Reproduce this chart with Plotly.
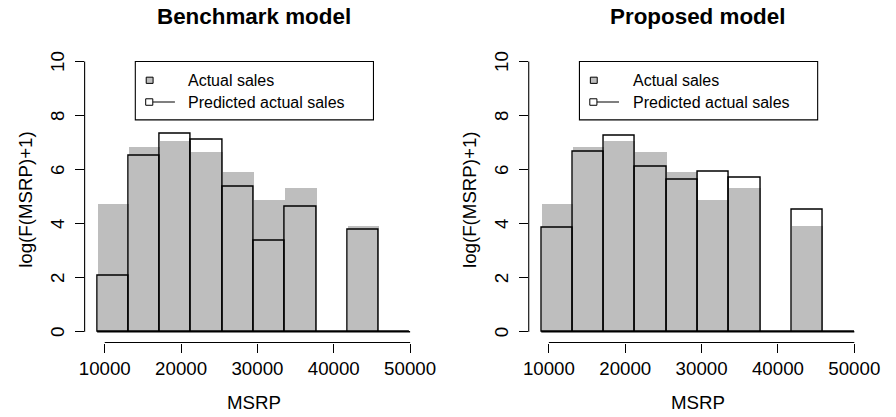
import plotly.graph_objects as go

# ---------------- data ----------------
bin_edges = [9000, 13100, 17200, 21300, 25400, 29500, 33600, 37700, 41800, 45900, 50000]
actual_sales = [4.73, 6.84, 7.06, 6.65, 5.91, 4.88, 5.32, 0.0, 3.94, 0.0]
pred_benchmark = [2.09, 6.50, 7.31, 7.09, 5.36, 3.38, 4.62, 0.0, 3.79, 0.0]
pred_proposed = [3.84, 6.68, 7.25, 6.11, 5.61, 5.93, 5.70, 0.0, 4.53, 0.0]
panel_titles = ["Benchmark model", "Proposed model"]
x_ticks = [10000, 20000, 30000, 40000, 50000]
x_tick_labels = ["10000", "20000", "30000", "40000", "50000"]
y_ticks = [0, 2, 4, 6, 8, 10]
y_tick_labels = ["0", "2", "4", "6", "8", "10"]
legend_labels = ["Actual sales", "Predicted actual sales"]
x_title = "MSRP"
y_title = "log(F(MSRP)+1)"

FONT = "Liberation Sans, Arial, Helvetica, sans-serif"
GRAY = "#BEBEBE"
WIN_W, WIN_H = 896, 417
OFF = 8  # default body margin of the html page
W, H = WIN_W - OFF, WIN_H - OFF


def px_x(X):
    return (X - OFF) / W


def px_y(Y):
    return (WIN_H - Y) / H


centers = [(a + b) / 2 for a, b in zip(bin_edges[:-1], bin_edges[1:])]
widths = [b - a for a, b in zip(bin_edges[:-1], bin_edges[1:])]

fig = go.Figure()

panels = [
    dict(pred=pred_benchmark, xa="x", ya="y", dom=[px_x(81.1), px_x(426.1)], left=81.1, right=426.1),
    dict(pred=pred_proposed, xa="x2", ya="y2", dom=[px_x(534.4), px_x(879.5)], left=534.4, right=879.5),
]
ydom = [px_y(342.5), px_y(50.7)]

shapes = []
annotations = []

for i, p in enumerate(panels):
    fig.add_trace(go.Bar(
        x=centers, y=actual_sales, width=widths,
        marker=dict(color=GRAY, line=dict(width=0)),
        xaxis=p["xa"], yaxis=p["ya"], showlegend=False, hoverinfo="skip",
    ))
    fig.add_trace(go.Bar(
        x=centers, y=p["pred"], width=widths,
        marker=dict(color="rgba(0,0,0,0)", line=dict(color="black", width=1.4)),
        xaxis=p["xa"], yaxis=p["ya"], showlegend=False, hoverinfo="skip",
    ))
    xr, yr = p["xa"], p["ya"]
    # baseline of zero-height bins
    shapes.append(dict(type="line", xref=xr, yref=yr, x0=bin_edges[0], x1=bin_edges[-1],
                       y0=0, y1=0, line=dict(color="black", width=1.4)))
    # R-style axis lines (span first to last tick)
    shapes.append(dict(type="line", xref=xr, yref=yr + " domain", x0=x_ticks[0], x1=x_ticks[-1],
                       y0=0, y1=0, line=dict(color="black", width=1.1)))
    shapes.append(dict(type="line", xref=xr + " domain", yref=yr, x0=0, x1=0,
                       y0=y_ticks[0], y1=y_ticks[-1], line=dict(color="black", width=1.1)))
    # legend box
    shapes.append(dict(type="rect", xref=xr, yref=yr, x0=14000, x1=45200, y0=7.84, y1=10.0,
                       line=dict(color="black", width=1.1), fillcolor="white", layer="above"))
    shapes.append(dict(type="rect", xref=xr, yref=yr, x0=15430, x1=16330, y0=9.19, y1=9.42,
                       line=dict(color="black", width=1), fillcolor=GRAY, layer="above"))
    shapes.append(dict(type="line", xref=xr, yref=yr, x0=16290, x1=19190, y0=8.50, y1=8.50,
                       line=dict(color="black", width=1.1), layer="above"))
    shapes.append(dict(type="rect", xref=xr, yref=yr, x0=15360, x1=16290, y0=8.38, y1=8.62,
                       line=dict(color="black", width=1), fillcolor="white", layer="above"))
    for lab, yy in zip(legend_labels, [9.30, 8.50]):
        annotations.append(dict(text=lab, xref=xr, yref=yr, x=20700, y=yy, xanchor="left",
                                yanchor="middle", showarrow=False,
                                font=dict(family=FONT, size=16, color="black")))
    # y tick labels (R style, parallel to the axis)
    for tv, tl in zip(y_ticks, y_tick_labels):
        annotations.append(dict(text=tl, xref="paper", yref=yr, x=px_x(p["left"] - 27.8), y=tv,
                                xanchor="center", yanchor="middle", textangle=-90,
                                showarrow=False,
                                font=dict(family=FONT, size=18.7, color="black")))
    cxp = (p["left"] + p["right"]) / 2
    annotations.append(dict(text="<b>%s</b>" % panel_titles[i], xref="paper", yref="paper",
                            x=px_x(cxp), y=px_y(16.8), xanchor="center", yanchor="middle",
                            showarrow=False, font=dict(family=FONT, size=22.4, color="black")))
    annotations.append(dict(text=x_title, xref="paper", yref="paper", x=px_x(cxp), y=px_y(402),
                            xanchor="center", yanchor="middle", showarrow=False,
                            font=dict(family=FONT, size=18.7, color="black")))
    annotations.append(dict(text=y_title, xref="paper", yref="paper",
                            x=px_x(p["left"] - 61), y=px_y(199),
                            xanchor="center", yanchor="middle", textangle=-90, showarrow=False,
                            font=dict(family=FONT, size=18.7, color="black")))

axis_common = dict(showgrid=False, zeroline=False, showline=False, ticks="outside",
                   ticklen=9, tickwidth=1.1, tickcolor="black",
                   tickfont=dict(family=FONT, size=18.7, color="black"))

layout = dict(
    width=W, height=H, margin=dict(l=0, r=0, t=0, b=0, pad=0),
    paper_bgcolor="white", plot_bgcolor="white",
    barmode="overlay", bargap=0, showlegend=False,
    shapes=shapes, annotations=annotations,
)
for i, p in enumerate(panels):
    sx = "" if i == 0 else str(i + 1)
    layout["xaxis" + sx] = dict(domain=p["dom"], range=[7360, 51640], tickvals=x_ticks,
                                ticktext=x_tick_labels, anchor="y" + sx, **axis_common)
    layout["yaxis" + sx] = dict(domain=ydom, range=[-0.4, 10.4], tickvals=y_ticks,
                                showticklabels=False, anchor="x" + sx, **axis_common)

fig.update_layout(**layout)
fig.write_html("out.html")
